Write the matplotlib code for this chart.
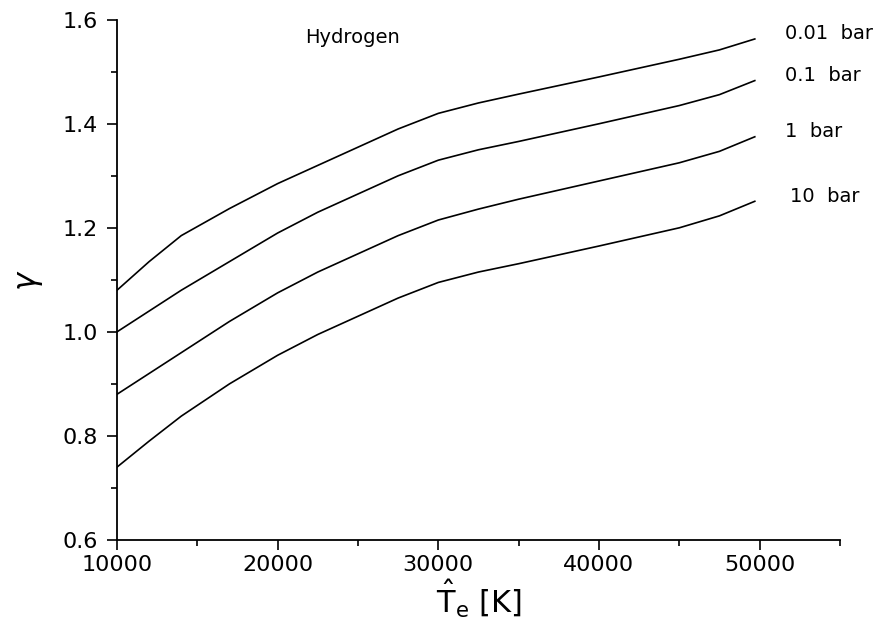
import matplotlib
matplotlib.use("Agg")
import matplotlib.pyplot as plt
from matplotlib.ticker import MultipleLocator

# Electron temperature grid [K]
temps = [10000, 12000, 14000, 17000, 20000, 22500, 25000, 27500, 30000,
         32500, 35000, 40000, 45000, 47500, 49700]

# Isentropic exponent gamma for hydrogen at several pressures
gamma_001bar = [1.08, 1.135, 1.185, 1.237, 1.285, 1.32, 1.355, 1.39, 1.42,
                1.44, 1.457, 1.49, 1.524, 1.542, 1.563]
gamma_01bar = [1.00, 1.04, 1.08, 1.135, 1.19, 1.23, 1.265, 1.30, 1.33,
               1.35, 1.366, 1.40, 1.435, 1.456, 1.483]
gamma_1bar = [0.88, 0.92, 0.96, 1.02, 1.075, 1.115, 1.15, 1.185, 1.215,
              1.236, 1.255, 1.29, 1.325, 1.347, 1.375]
gamma_10bar = [0.74, 0.79, 0.838, 0.90, 0.955, 0.995, 1.03, 1.065, 1.095,
               1.115, 1.131, 1.165, 1.20, 1.223, 1.251]

series = [gamma_001bar, gamma_01bar, gamma_1bar, gamma_10bar]
labels = ["0.01  bar", "0.1  bar", "1  bar", "10  bar"]
label_x = [51600, 51600, 51600, 51900]

plt.rcParams['mathtext.fontset'] = 'dejavusans'

fig = plt.figure(figsize=(8.93, 6.36), dpi=100)
ax = fig.add_axes([0.131, 0.151, 0.8096, 0.818])

for vals, lab, lx in zip(series, labels, label_x):
    ax.plot(temps, vals, color='black', lw=1.2)
    ax.text(lx, vals[-1] + 0.01, lab, fontsize=14, va='center', ha='left')

ax.text(21700, 1.565, "Hydrogen", fontsize=14, va='center', ha='left')

ax.set_xlim(10000, 55000)
ax.set_ylim(0.6, 1.6)
ax.xaxis.set_major_locator(MultipleLocator(10000))
ax.xaxis.set_minor_locator(MultipleLocator(5000))
ax.yaxis.set_major_locator(MultipleLocator(0.2))
ax.yaxis.set_minor_locator(MultipleLocator(0.1))
ax.yaxis.set_major_formatter(plt.FuncFormatter(lambda v, p: f"{v:.1f}"))

for s in ['top', 'right']:
    ax.spines[s].set_visible(False)
for s in ['left', 'bottom']:
    ax.spines[s].set_linewidth(1.3)

ax.tick_params(axis='both', which='major', direction='out', length=7,
               width=1.2, labelsize=16)
ax.tick_params(axis='both', which='minor', direction='out', length=4,
               width=1.2)
ax.tick_params(axis='y', which='major', pad=7)
ax.tick_params(axis='x', which='major', pad=4)

ax.set_xlabel(r'$\hat{\mathrm{T}}_{\mathrm{e}}$ [K]', fontsize=22, labelpad=2)
ax.set_ylabel(r'$\gamma$', fontsize=22, labelpad=12)

fig.savefig("out.png", dpi=100)
